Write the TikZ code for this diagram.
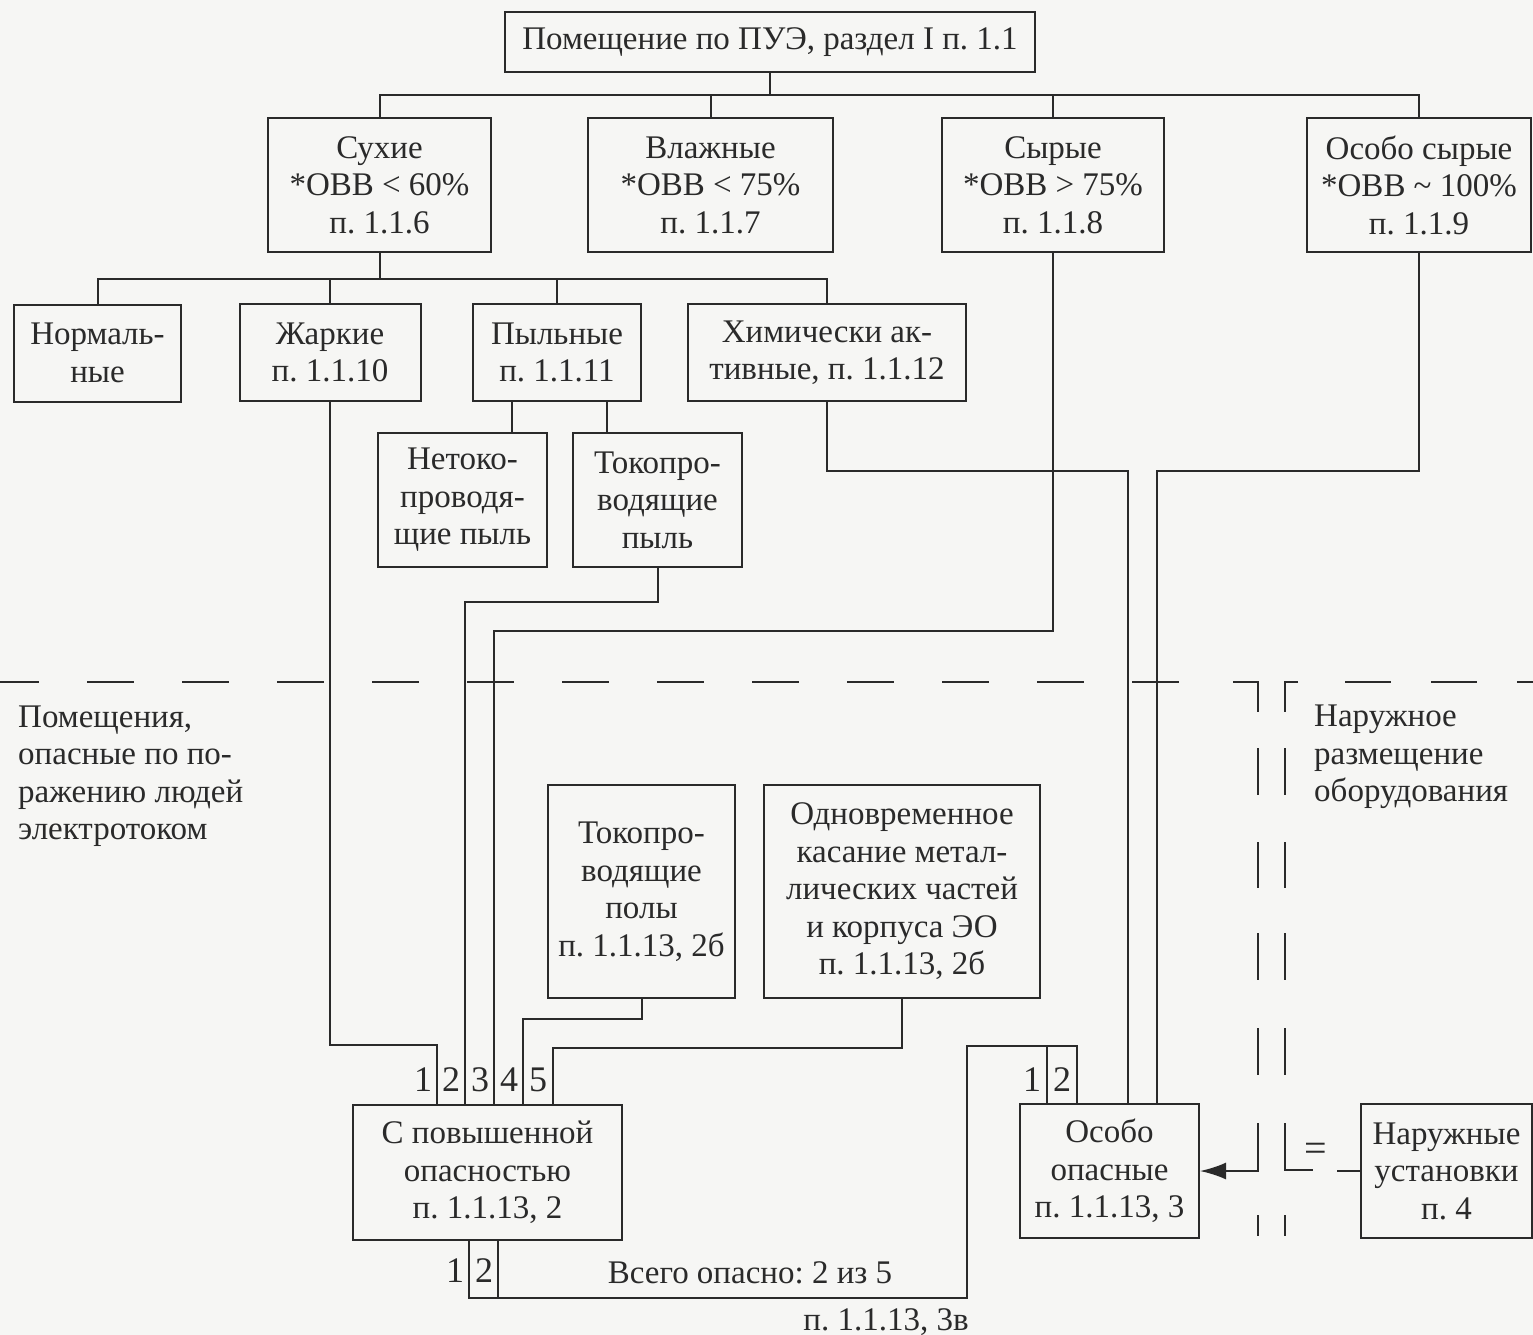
\documentclass[tikz,border=0pt]{standalone}
\usepackage{fontspec}
\setmainfont{Liberation Serif}
\usetikzlibrary{calc,arrows.meta}

\definecolor{ink}{HTML}{2A2A2A}
\definecolor{paper}{HTML}{F6F6F4}
\newcommand\diagfont{\fontsize{33}{37.5}\selectfont}
\newcommand\portfont{\fontsize{36}{36}\selectfont}

\begin{document}
\frenchspacing
\begin{tikzpicture}[x=1pt,y=-1pt,
  box/.style={draw=ink, line width=2pt, rectangle, inner sep=0pt,
              align=center, font=\diagfont, text=ink},
  wire/.style={draw=ink, line width=2pt},
  bound/.style={draw=ink, line width=2pt},
  port/.style={font=\portfont, text=ink, inner sep=0pt},
  note/.style={font=\diagfont, text=ink, inner sep=0pt}]

% page
\useasboundingbox (0,0) rectangle (1533,1335);
\fill[paper] (0,0) rectangle (1533,1335);

% ---- top level ----
\node[box, minimum width=530pt, minimum height=60pt] (top) at (770,42)
  {Помещение по ПУЭ, раздел I п. 1.1};

% ---- humidity classes ----
\node[box, minimum width=223pt, minimum height=134pt] (dry)  at (379.5,185) {Сухие\\*ОВВ < 60\%\\п. 1.1.6};
\node[box, minimum width=245pt, minimum height=134pt] (damp) at (710.5,185) {Влажные\\*ОВВ < 75\%\\п. 1.1.7};
\node[box, minimum width=222pt, minimum height=134pt] (wet)  at (1053,185)  {Сырые\\*ОВВ > 75\%\\п. 1.1.8};
\node[box, minimum width=224pt, minimum height=134pt] (vwet) at (1419,185)  {Особо сырые\\*ОВВ \textasciitilde{} 100\%\\п. 1.1.9};

% ---- dry subclasses ----
\node[box, minimum width=167pt, minimum height=97pt] (norm) at (97.5,353) {Нормаль-\\ные};
\node[box, minimum width=181pt, minimum height=97pt] (hot)  at (330,352.5) {Жаркие\\п. 1.1.10};
\node[box, minimum width=168pt, minimum height=97pt] (dust) at (557,352.5) {Пыльные\\п. 1.1.11};
\node[box, minimum width=278pt, minimum height=97pt] (chem) at (827,352.5) {Химически ак-\\тивные, п. 1.1.12};

% ---- dust kinds ----
\node[box, minimum width=169pt, minimum height=134pt] (ndust) at (462.5,500) {Нетоко-\\проводя-\\щие пыль};
\node[box, minimum width=169pt, minimum height=134pt] (cdust) at (657.5,500) {Токопро-\\водящие\\пыль};

% ---- other hazard factors ----
\node[box, minimum width=187pt, minimum height=213pt] (floor) at (641.5,891.5) {Токопро-\\водящие\\полы\\п. 1.1.13, 2б};
\node[box, minimum width=276pt, minimum height=213pt] (touch) at (902,891.5) {Одновременное\\касание метал-\\лических частей\\и корпуса ЭО\\п. 1.1.13, 2б};

% ---- hazard categories ----
\node[box, minimum width=269pt, minimum height=135pt] (high)  at (487.5,1172.5) {С повышенной\\опасностью\\п. 1.1.13, 2};
\node[box, minimum width=179pt, minimum height=134pt] (extra) at (1109.5,1171) {Особо\\опасные\\п. 1.1.13, 3};
\node[box, minimum width=171pt, minimum height=134pt] (outd)  at (1446.5,1171) {Наружные\\установки\\п. 4};

% ---- tree connectors ----
\coordinate (busA) at (770,95);
\draw[wire] (top.south) -- (busA);
\foreach \n in {dry,damp,wet,vwet} \draw[wire] (\n.north) |- (busA);

\coordinate (busB) at (379.5,279);
\draw[wire] (dry.south) -- (busB);
\foreach \n in {norm,hot,dust,chem} \draw[wire] (\n.north) |- (busB);

\coordinate (dL) at ([xshift=-45pt]dust.south);
\coordinate (dR) at ([xshift=50pt]dust.south);
\draw[wire] (dL) -- (dL |- ndust.north);
\draw[wire] (dR) -- (dR |- cdust.north);

% ---- inputs of the hazard categories ----
\coordinate (h1) at ([xshift=-50.5pt]high.north);
\coordinate (h2) at ([xshift=-22.5pt]high.north);
\coordinate (h3) at ([xshift=6.5pt]high.north);
\coordinate (h4) at ([xshift=35.5pt]high.north);
\coordinate (h5) at ([xshift=65.5pt]high.north);
\coordinate (hb1) at ([xshift=-18.5pt]high.south);
\coordinate (hb2) at ([xshift=10.5pt]high.south);
\coordinate (e1) at ([xshift=-62.5pt]extra.north);
\coordinate (e2) at ([xshift=-32.5pt]extra.north);
\coordinate (e3) at ([xshift=18.5pt]extra.north);
\coordinate (e4) at ([xshift=47.5pt]extra.north);

\draw[wire] (hot.south) |- ($(h1)+(0,-59)$) -- (h1);
\draw[wire] (cdust.south) -- ++(0,34) -| (h2);
\draw[wire] (wet.south) -- ++(0,378) -| (h3);
\draw[wire] (floor.south) -- ++(0,20) -| (h4);
\draw[wire] (touch.south) -- ++(0,49) -| (h5);
\draw[wire] (chem.south) -- ++(0,69) -| (e3);
\draw[wire] (vwet.south) -- ++(0,218) -| (e4);

% two of five -> especially dangerous
\draw[wire] (hb1) -- ++(0,57) -| ($(e1)+(-80,-57)$) -| (e2);
\draw[wire] (hb2) -- ++(0,57);
\draw[wire] (e1) -- ++(0,-57);

% port numbers
\node[port] at (423,1080) {1};
\node[port] at (451,1080) {2};
\node[port] at (480,1080) {3};
\node[port] at (509,1080) {4};
\node[port] at (538,1080) {5};
\node[port] at (455,1271) {1};
\node[port] at (484,1271) {2};
\node[port] at (1032,1080) {1};
\node[port] at (1062,1080) {2};

\node[note] at (750,1273) {Всего опасно: 2 из 5};
\node[note] at (886,1322) {п. 1.1.13, 3в};

% ---- zone boundaries ----
\draw[bound, dash pattern=on 47pt off 48pt] (-8,682) -- (1180,682);
\draw[bound] (1233,682) -- (1258,682) -- (1258,712);
\draw[bound] (1298,682) -- (1285,682) -- (1285,712);
\draw[bound, dash pattern=on 46pt off 40pt] (1345,682) -- (1560,682);
\foreach \a/\b in {748/795,842/888,933/980,1028/1075,1215/1236} {
  \draw[bound] (1258,\a) -- (1258,\b);
  \draw[bound] (1285,\a) -- (1285,\b);
}

\node[note, anchor=west, align=left] (zoneL) at (18,776)
  {Помещения,\\опасные по по-\\ражению людей\\электротоком};
\node[note, anchor=west, align=left] (zoneR) at (1314,757)
  {Наружное\\размещение\\оборудования};

% outdoor installations count as especially dangerous
\coordinate (ar) at (1258,1123);
\draw[wire, -{Latex[length=26pt,width=17pt]}] (ar) |- (extra.east);
\coordinate (al) at (1285,1123);
\draw[wire] (al) |- ++(28,47);
\node[font=\fontsize{40}{40}\selectfont, text=ink, inner sep=0pt] (eq) at (1316,1152) {=};
\draw[wire] (outd.west) -- ++(-23,0);

\end{tikzpicture}
\end{document}
